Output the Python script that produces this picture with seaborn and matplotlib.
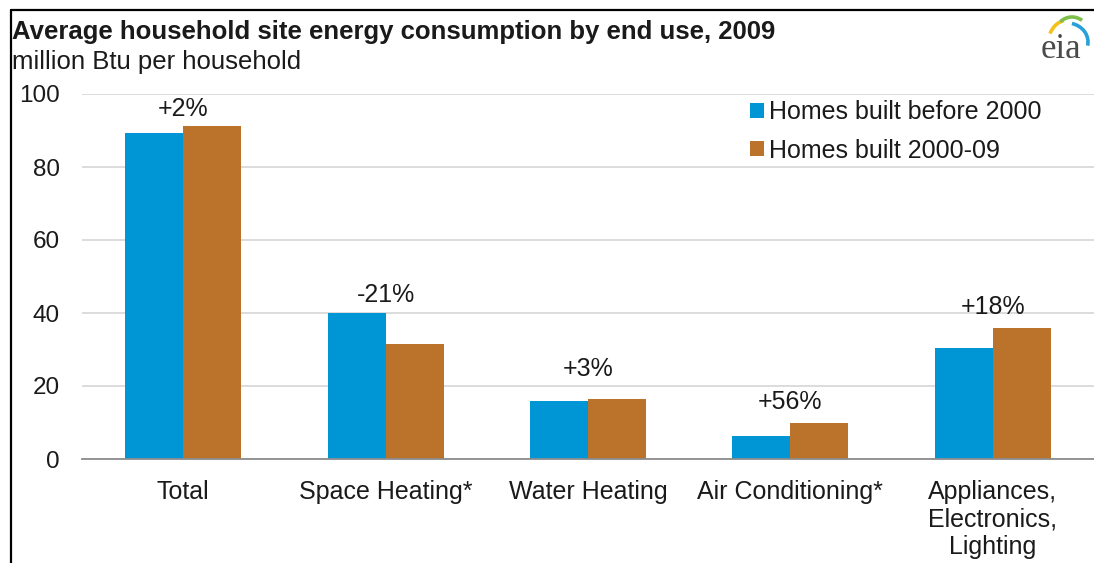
import matplotlib
matplotlib.use("Agg")
import matplotlib.pyplot as plt
import numpy as np
import pandas as pd
import seaborn as sns
from matplotlib.lines import Line2D
from matplotlib.patches import Arc

# Data
categories = ["Total", "Space Heating*", "Water Heating", "Air Conditioning*",
              "Appliances,\nElectronics,\nLighting"]
before_2000 = [89.3, 40.0, 15.9, 6.3, 30.4]
built_2000_09 = [91.2, 31.5, 16.4, 9.9, 35.9]
pct_labels = ["+2%", "-21%", "+3%", "+56%", "+18%"]
series_names = ["Homes built before 2000", "Homes built 2000-09"]

# extra gap (pixels) between tallest bar and its percent label
label_pad = [5, 6, 18, 9, 9]

BLUE = "#0096d6"
ORANGE = "#bb722b"
TXT = "#1a1a1a"

df = pd.DataFrame({
    "category": categories * 2,
    "value": before_2000 + built_2000_09,
    "series": [series_names[0]] * 5 + [series_names[1]] * 5,
})

sns.set_style("white")
plt.rcParams["font.family"] = ["Liberation Sans", "DejaVu Sans"]

fig = plt.figure(figsize=(10.94, 5.63), dpi=100)
ax = fig.add_axes([82 / 1094, 1 - 459 / 563, 1 - 82 / 1094, (459 - 94) / 563])

sns.barplot(data=df, x="category", y="value", hue="series",
            palette=[BLUE, ORANGE], width=0.574, saturation=1,
            linewidth=0, ax=ax)

ax.set_xlim(-0.5, len(categories) - 0.5)
ax.set_ylim(0, 100)
ax.set_yticks([0, 20, 40, 60, 80, 100])
ax.yaxis.grid(True, color="#d9d9d9", linewidth=1.3)
ax.set_axisbelow(True)
for s in ["top", "right", "left"]:
    ax.spines[s].set_visible(False)
ax.spines["bottom"].set_color("#8c8c8c")
ax.spines["bottom"].set_linewidth(1.3)

ax.tick_params(axis="y", length=0, labelsize=17.5, pad=16, colors=TXT)
ax.set_xticks(range(len(categories)))
ax.set_xticklabels(categories, fontsize=18, linespacing=1.2, color=TXT)
ax.tick_params(axis="x", which="major", length=0, pad=15)
ax.set_xticks(np.arange(-0.5, len(categories)), minor=True)
ax.tick_params(axis="x", which="minor", length=8, width=1.3, color="#8c8c8c")
ax.set_xlabel("")
ax.set_ylabel("")

# percent change labels above each group
for i, lab in enumerate(pct_labels):
    top = max(before_2000[i], built_2000_09[i])
    ax.annotate(lab, (i, top), xytext=(0, label_pad[i]),
                textcoords="offset pixels", ha="center", va="bottom",
                fontsize=18, color=TXT)

leg = ax.legend(loc="upper left", bbox_to_anchor=(740 / 1094, 1 - 90 / 563),
                bbox_transform=fig.transFigure, frameon=False, fontsize=18,
                handlelength=0.55, handleheight=0.55, handletextpad=0.2,
                labelspacing=0.58, borderaxespad=0)
for t in leg.get_texts():
    t.set_color(TXT)

# titles
fig.text(12 / 1094, 1 - 20 / 563, "Average household site energy consumption by end use, 2009",
         fontsize=18.5, fontweight="bold", va="top", ha="left", color=TXT)
fig.text(12 / 1094, 1 - 50 / 563, "million Btu per household",
         fontsize=18.5, va="top", ha="left", color=TXT)

# frame lines on the left and top
fig.add_artist(Line2D([11 / 1094, 11 / 1094], [0, 1 - 10 / 563], color="black",
                      linewidth=1.6, transform=fig.transFigure))
fig.add_artist(Line2D([11 / 1094, 1], [1 - 10 / 563, 1 - 10 / 563], color="black",
                      linewidth=1.6, transform=fig.transFigure))

# eia logo
logo = fig.add_axes([1034 / 1094, 1 - 62 / 563, 56 / 1094, 50 / 563])
logo.set_xlim(0, 56)
logo.set_ylim(0, 50)
logo.axis("off")
logo.text(27, 13, "eia", fontsize=25, family="Liberation Serif", ha="center",
          va="center", color="#4a4a4a")
logo.add_patch(Arc((34, 18), 40, 48, theta1=100, theta2=150, color="#f2c21b", linewidth=2.6))
logo.add_patch(Arc((38, 20), 40, 50, theta1=65, theta2=120, color="#7cbf4a", linewidth=2.6))
logo.add_patch(Arc((33, 20), 42, 38, theta1=-10, theta2=75, color="#2a9fd8", linewidth=2.6))

fig.savefig("out.png", dpi=100)
